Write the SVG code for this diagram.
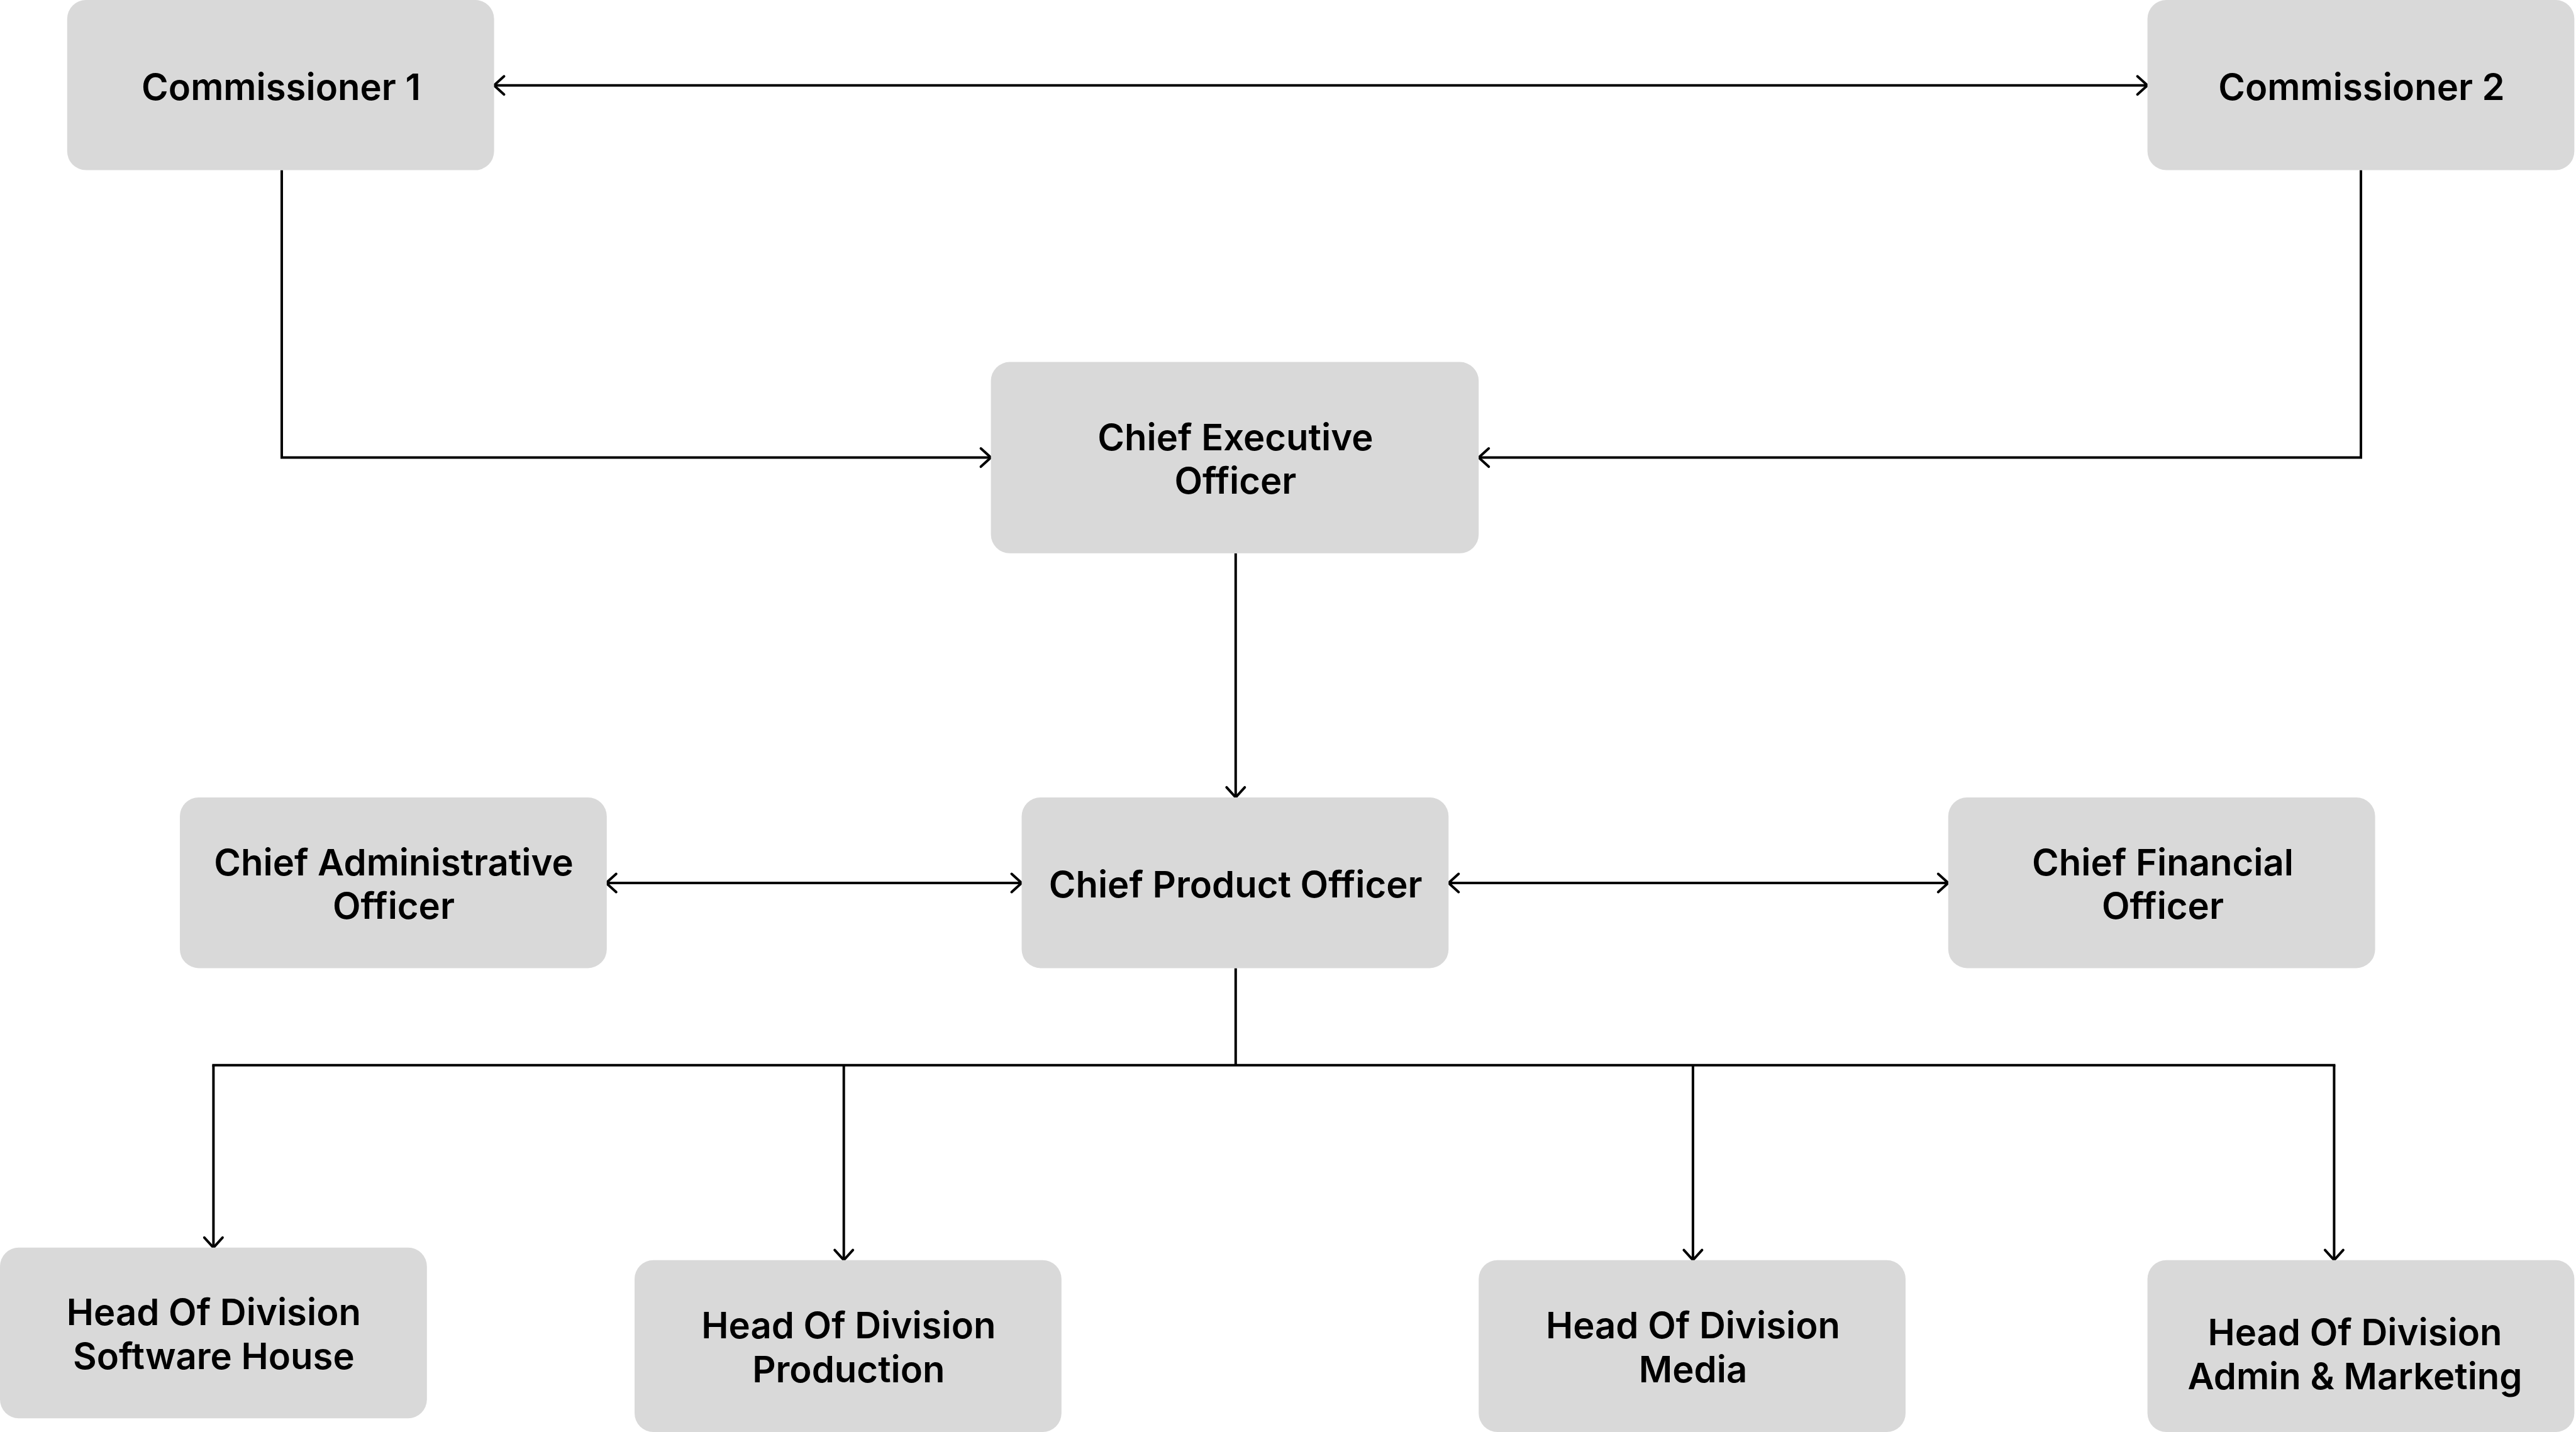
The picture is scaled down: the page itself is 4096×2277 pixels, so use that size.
<svg xmlns="http://www.w3.org/2000/svg" width="4096" height="2277" viewBox="0 0 4096 2277">
<style>
.box{fill:#D9D9D9}
.lbl{font-family:Inter,"Liberation Sans",sans-serif;font-weight:600;font-size:58px;fill:#000;text-anchor:middle}
.con{fill:none;stroke:#000;stroke-width:4;stroke-linecap:butt}
</style>
<defs>
<marker id="arr" markerUnits="userSpaceOnUse" markerWidth="40" markerHeight="40" viewBox="-20 -20 40 40" refX="0" refY="0" orient="auto-start-reverse">
<path d="M -16 -14.5 L 0 0 L -16 14.5" fill="none" stroke="#000" stroke-width="4" stroke-linecap="round" stroke-linejoin="round"/>
</marker>
</defs>
<rect width="4096" height="2277" fill="#fff"/>
<g id="connectors">
<path class="con" d="M 785.5 135.75 L 3414.6 135.75" marker-start="url(#arr)" marker-end="url(#arr)"/>
<path class="con" d="M 448 270.6 L 448 727.6 L 1575.6 727.6" marker-end="url(#arr)"/>
<path class="con" d="M 3754 270.6 L 3754 727.6 L 2351.2 727.6" marker-end="url(#arr)"/>
<path class="con" d="M 1964.8 879.7 L 1964.8 1267.9" marker-end="url(#arr)"/>
<path class="con" d="M 963.8 1404 L 1624.5 1404" marker-start="url(#arr)" marker-end="url(#arr)"/>
<path class="con" d="M 2303.3 1404 L 3097.8 1404" marker-start="url(#arr)" marker-end="url(#arr)"/>
<path class="con" d="M 1964.8 1539.4 L 1964.8 1693.7"/>
<path class="con" d="M 337.4 1693.7 L 3713.4 1693.7"/>
<path class="con" d="M 339.4 1693.7 L 339.4 1983.8" marker-end="url(#arr)"/>
<path class="con" d="M 1341.7 1693.7 L 1341.7 2003.7" marker-end="url(#arr)"/>
<path class="con" d="M 2691.9 1693.7 L 2691.9 2003.7" marker-end="url(#arr)"/>
<path class="con" d="M 3711.4 1693.7 L 3711.4 2003.7" marker-end="url(#arr)"/>
</g>
<g id="commissioner1">
<rect class="box" x="106.8" y="0" width="678.8" height="270.6" rx="30"/>
<text class="lbl" x="447" y="158.5">Commissioner 1</text>
</g>
<g id="commissioner2">
<rect class="box" x="3414.6" y="0" width="678.8" height="270.6" rx="30"/>
<text class="lbl" x="3755" y="158.5">Commissioner 2</text>
</g>
<g id="ceo">
<rect class="box" x="1575.6" y="575.6" width="775.6" height="304.1" rx="30"/>
<text class="lbl" x="1964.4" y="715.6">Chief Executive</text>
<text class="lbl" x="1964.4" y="785.3">Officer</text>
</g>
<g id="cao">
<rect class="box" x="286" y="1267.9" width="678.8" height="271.5" rx="30"/>
<text class="lbl" x="626" y="1391.5">Chief Administrative</text>
<text class="lbl" x="626" y="1461.2">Officer</text>
</g>
<g id="cpo">
<rect class="box" x="1624.5" y="1267.9" width="678.8" height="271.5" rx="30"/>
<text class="lbl" x="1964.6" y="1426.5">Chief Product Officer</text>
</g>
<g id="cfo">
<rect class="box" x="3097.8" y="1267.9" width="678.8" height="271.5" rx="30"/>
<text class="lbl" x="3439" y="1391.5">Chief Financial</text>
<text class="lbl" x="3439" y="1461.2">Officer</text>
</g>
<g id="hod-software">
<rect class="box" x="0" y="1983.8" width="678.8" height="271.5" rx="30"/>
<text class="lbl" x="339.9" y="2107.4">Head Of Division</text>
<text class="lbl" x="339.9" y="2177.1">Software House</text>
</g>
<g id="hod-production">
<rect class="box" x="1009" y="2003.7" width="678.8" height="273.3" rx="30"/>
<text class="lbl" x="1349.4" y="2128.1">Head Of Division</text>
<text class="lbl" x="1349.4" y="2197.8">Production</text>
</g>
<g id="hod-media">
<rect class="box" x="2351.2" y="2003.7" width="678.8" height="273.3" rx="30"/>
<text class="lbl" x="2692" y="2128.1">Head Of Division</text>
<text class="lbl" x="2692" y="2197.8">Media</text>
</g>
<g id="hod-admin">
<rect class="box" x="3414.6" y="2003.7" width="678.8" height="273.3" rx="30"/>
<text class="lbl" x="3744.5" y="2139">Head Of Division</text>
<text class="lbl" x="3744.5" y="2208.7">Admin &amp; Marketing</text>
</g>
</svg>
